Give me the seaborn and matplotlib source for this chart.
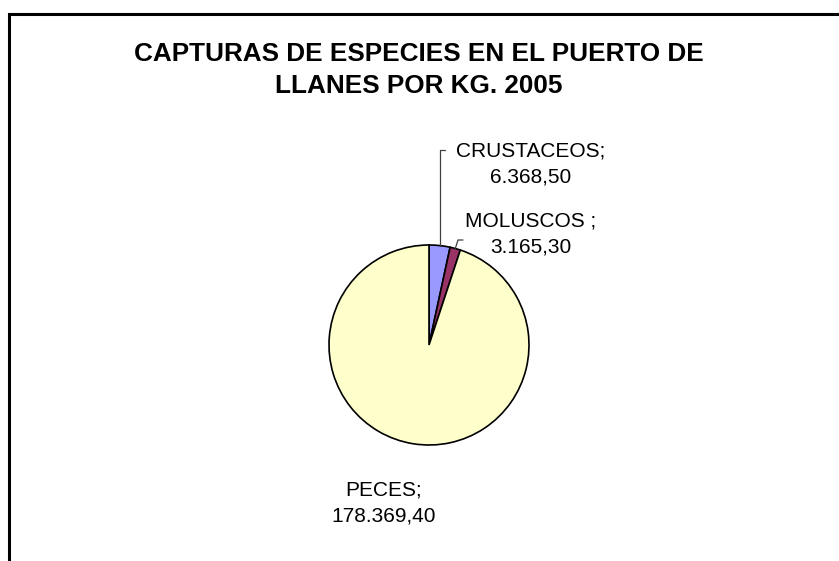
import matplotlib
matplotlib.use("Agg")
import matplotlib.pyplot as plt
import numpy as np
import seaborn as sns
from matplotlib.patches import Rectangle

categories = ["CRUSTACEOS", "MOLUSCOS", "PECES"]
label_names = ["CRUSTACEOS;", "MOLUSCOS ;", "PECES;"]
values = [6368.50, 3165.30, 178369.40]
value_labels = ["6.368,50", "3.165,30", "178.369,40"]
colors = ["#9999FF", "#993366", "#FFFFCC"]
title = "CAPTURAS DE ESPECIES EN EL PUERTO DE\nLLANES POR KG. 2005"

sns.set_theme(style="white")
plt.rcParams["font.family"] = ["Liberation Sans", "DejaVu Sans"]
plt.rcParams["text.color"] = "black"

W, H = 839, 561
fig = plt.figure(figsize=(W / 100, H / 100), dpi=100)

# frame of the chart area (cropped on the right and bottom)
frame = Rectangle((9 / W, -0.1), 1.0, (H - 14) / H + 0.1, transform=fig.transFigure,
                  fill=False, edgecolor="black", linewidth=2.2)
fig.patches.append(frame)

fig.text(419 / W, 1 - 70 / H, title, ha="center", va="center", fontsize=18.8,
         fontweight="bold", linespacing=1.45)

# pie axes: center (429, 345) px, radius 100 px
cx, cy, r = 429, 345, 100
ax = fig.add_axes([(cx - r) / W, 1 - (cy + r) / H, 2 * r / W, 2 * r / H])
wedges, _ = ax.pie(values, colors=colors, startangle=90, counterclock=False,
                   wedgeprops=dict(edgecolor="black", linewidth=1.2))
ax.set_xlim(-1, 1)
ax.set_ylim(-1, 1)
ax.set_aspect("equal")
ax.axis("off")


def px(x, y):
    return (x - cx) / r, (cy - y) / r


def edge_point(w):
    a = np.deg2rad((w.theta1 + w.theta2) / 2)
    return np.cos(a), np.sin(a)


lbl_size = 15
lbl_space = 1.5

# CRUSTACEOS leader line and label
x0, y0 = edge_point(wedges[0])
x1, y1 = px(0, 150)
ax.plot([x0, x0, x0 + 0.05], [y0, y1, y1], color="#404040", lw=0.9, clip_on=False)
tx, ty = px(531, 164)
ax.text(tx, ty, label_names[0] + "\n" + value_labels[0], ha="center", va="center",
        fontsize=lbl_size, linespacing=lbl_space)

# MOLUSCOS leader line and label
x0, y0 = edge_point(wedges[1])
x1, y1 = px(458, 240)
ax.plot([x0, x1, x1 + 0.05], [y0, y1, y1], color="#404040", lw=0.9, clip_on=False)
tx, ty = px(531, 234)
ax.text(tx, ty, label_names[1] + "\n" + value_labels[1], ha="center", va="center",
        fontsize=lbl_size, linespacing=lbl_space)

# PECES label
tx, ty = px(384, 503)
ax.text(tx, ty, label_names[2] + "\n" + value_labels[2], ha="center", va="center",
        fontsize=lbl_size, linespacing=lbl_space)

fig.savefig("out.png", dpi=100)
